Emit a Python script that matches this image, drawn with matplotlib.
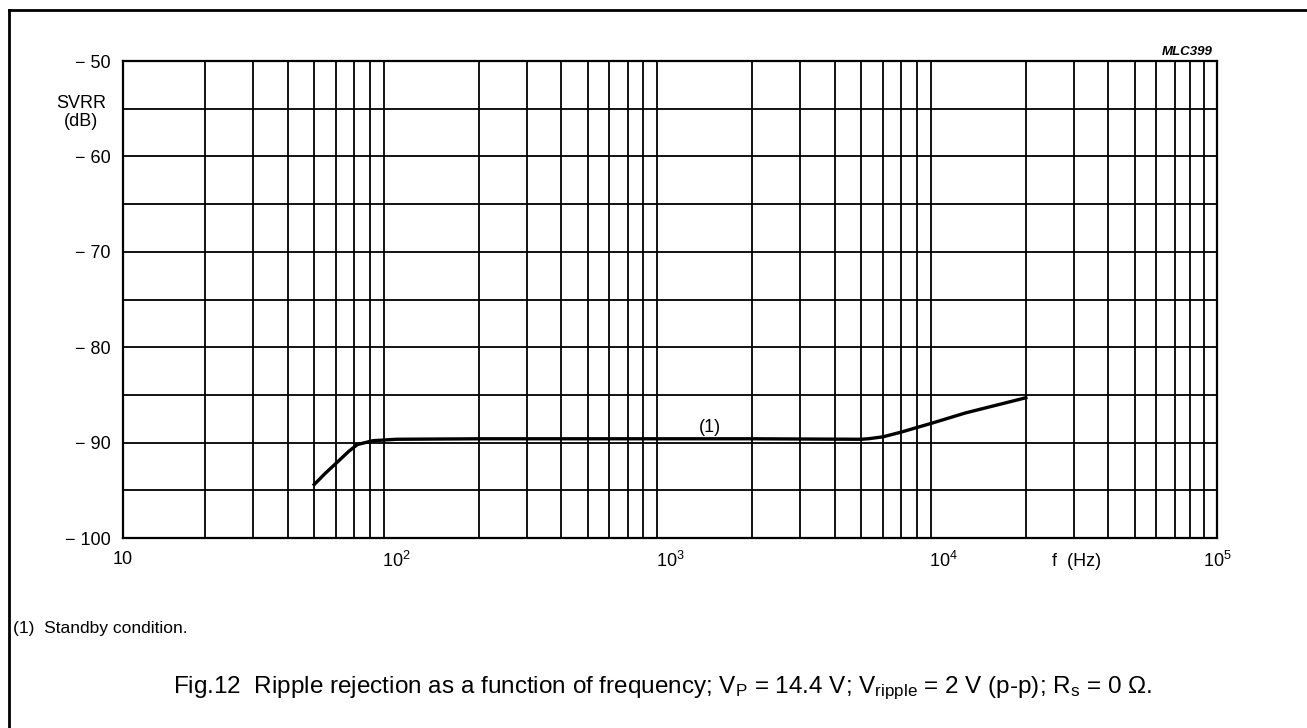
import numpy as np
import matplotlib
matplotlib.use("Agg")
import matplotlib.pyplot as plt
from matplotlib.lines import Line2D

plt.rcParams['font.family'] = ['Liberation Sans', 'DejaVu Sans']
plt.rcParams['mathtext.fontset'] = 'custom'
plt.rcParams['mathtext.rm'] = 'Liberation Sans'
plt.rcParams['mathtext.it'] = 'Liberation Sans:italic'

# curve (1) standby condition
freq = [50, 55, 61, 67, 72, 82, 100, 200, 500, 1000, 2000, 5000, 5300, 6000, 7000, 9100, 12000, 15000, 20000]
svrr = [-94.4, -93.2, -92.0, -90.9, -90.2, -89.8, -89.65, -89.6, -89.6, -89.6, -89.6, -89.65, -89.6, -89.4, -88.9, -87.95, -86.9, -86.2, -85.3]

y_ticks = [-50, -60, -70, -80, -90, -100]
y_labels = ['\u2212 50', '\u2212 60', '\u2212 70', '\u2212 80', '\u2212 90', '\u2212 100']
x_ticks = [10, 100, 1000, 10000, 100000]
x_labels = ['10', '$10^2$', '$10^3$', '$10^4$', '$10^5$']

fig = plt.figure(figsize=(13.07, 7.28), dpi=100)
ax = fig.add_axes([123 / 1307, 1 - 538 / 728, (1217 - 123) / 1307, (538 - 61) / 728])

ax.set_xscale('log')
ax.set_xlim(10, 1e5)
ax.set_ylim(-100, -50)

# grid: every 2..9 per decade, every 5 dB
for dec in [10, 100, 1000, 10000]:
    for m in range(2, 10):
        ax.axvline(dec * m, color='black', lw=1.3, zorder=1)
for y in np.arange(-95, -50, 5):
    ax.axhline(y, color='black', lw=1.3, zorder=1)

ax.plot(freq, svrr, color='black', lw=2.4, zorder=3)
ax.text(1400, -88.4, '(1)', fontsize=13, ha='center', va='center')

for s in ax.spines.values():
    s.set_linewidth(1.6)

ax.set_yticks(y_ticks)
ax.set_yticklabels(y_labels, fontsize=13)
ax.set_xticks(x_ticks)
ax.set_xticklabels(x_labels, fontsize=13)
ax.xaxis.set_minor_locator(matplotlib.ticker.NullLocator())
ax.tick_params(length=0, pad=9)
ax.tick_params(axis='x', pad=9)

fig.text(81 / 1307, 1 - 103 / 728, 'SVRR', fontsize=13, ha='center', va='center')
fig.text(81 / 1307, 1 - 121 / 728, '(dB)', fontsize=13, ha='center', va='center')
fig.text(1052 / 1307, 1 - 562 / 728, 'f  (Hz)', fontsize=13, ha='left', va='center')
fig.text(1213 / 1307, 1 - 52 / 728, 'MLC399', fontsize=9.5, ha='right', va='center',
         style='italic', weight='bold')

fig.text(13 / 1307, 1 - 629 / 728, '(1)  Standby condition.', fontsize=12.5, ha='left', va='center')
fig.text(662 / 1307, 1 - 688 / 728,
         r'Fig.12  Ripple rejection as a function of frequency; V$_\mathregular{P}$ = 14.4 V; '
         r'V$_\mathregular{ripple}$ = 2 V (p-p); R$_\mathregular{s}$ = 0 $\Omega$.',
         fontsize=17.5, ha='center', va='center')

# outer frame (top and left)
fig.add_artist(Line2D([9 / 1307, 1], [1 - 10 / 728, 1 - 10 / 728], color='black', lw=2, transform=fig.transFigure))
fig.add_artist(Line2D([9 / 1307, 9 / 1307], [0, 1 - 10 / 728], color='black', lw=2, transform=fig.transFigure))

fig.savefig('out.png', dpi=100)
